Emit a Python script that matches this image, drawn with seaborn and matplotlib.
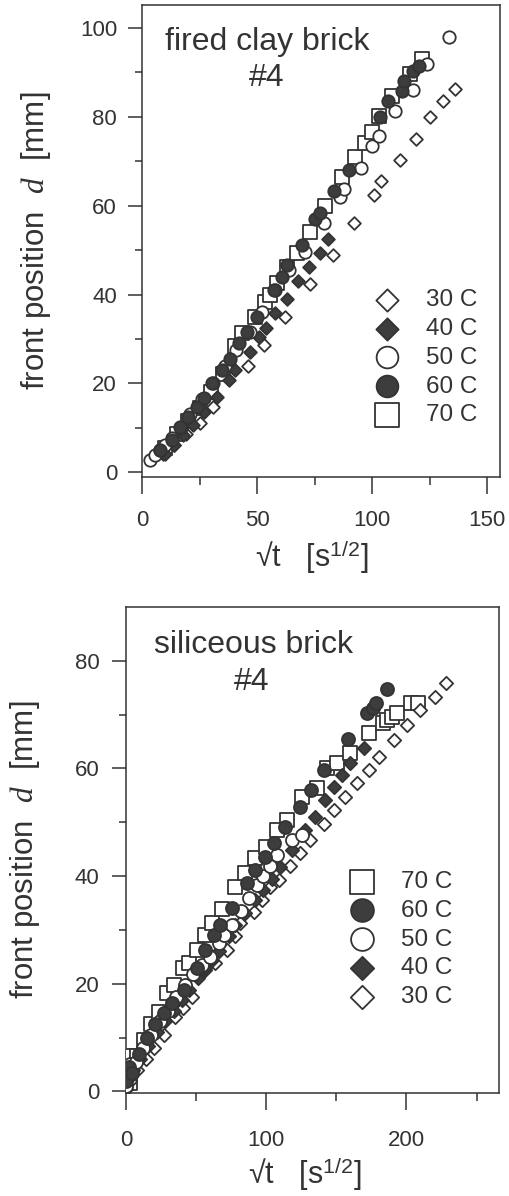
import numpy as np
import pandas as pd
import matplotlib
matplotlib.use("Agg")
import matplotlib.pyplot as plt
from matplotlib.ticker import FixedLocator
import seaborn as sns

# ---------------- data: top panel (fired clay brick #4) ----------------
T30_x = [9, 14, 19, 25, 31, 46, 53, 62, 73, 83, 92, 101, 104, 112, 119, 125, 131, 136]
T30_y = [4.0, 6.0, 8.5, 11.0, 14.7, 24.0, 28.7, 35.0, 42.4, 49.0, 56.0, 62.5, 65.5, 70.4, 75.0, 80.0, 83.5, 86.2]

T40_x = [10, 14, 18, 22, 27, 32.6, 37.7, 40.5, 47, 51, 54, 58, 63, 68, 72.5, 77.5, 81]
T40_y = [4.0, 6.0, 8.3, 10.5, 13.5, 17.0, 20.8, 23.0, 27.0, 30.5, 32.5, 35.8, 39.0, 43.0, 46.3, 49.4, 52.5]

T50_x = [3.6, 5.8, 8, 10, 13, 17, 21, 26, 31, 36, 41, 47, 52, 58, 64, 71, 79, 86, 88, 95, 100, 103, 110, 118, 124, 133.5]
T50_y = [2.7, 3.8, 5.0, 6.1, 7.7, 10.0, 13.0, 16.5, 20.0, 24.0, 27.5, 31.5, 36.0, 41.0, 45.5, 49.6, 56.0, 61.9, 63.7, 68.6, 73.4, 75.6, 81.3, 86.0, 92.0, 98.0]

T60_x = [8, 13, 16.5, 20, 24, 27, 30.4, 34.8, 38.4, 42, 45.6, 50, 57.3, 61, 63, 69.6, 75.4, 77.5, 83.4, 90, 103.6, 107, 113, 114, 118, 120.4]
T60_y = [5.0, 7.2, 10.2, 12.5, 14.7, 16.7, 20.0, 23.0, 25.5, 29.0, 31.6, 35.0, 41.0, 44.0, 46.6, 51.2, 57.0, 58.4, 63.3, 68.0, 80.0, 83.5, 85.8, 88.0, 90.3, 91.4]

T70_x = [10, 15, 20, 25, 30, 35, 40.4, 43.5, 49, 53.5, 55.7, 58.7, 63, 67.4, 73, 79.6, 87, 92.6, 97, 100, 103, 108.7, 116.5, 121.7]
T70_y = [5.5, 8.5, 11.5, 14.5, 18.0, 22.0, 28.3, 31.4, 35.0, 38.4, 40.0, 42.6, 46.3, 49.4, 54.0, 60.0, 66.4, 70.9, 74.2, 76.7, 80.2, 84.7, 89.6, 93.0]

# ---------------- data: bottom panel (siliceous brick #4) ----------------
B70_x = [0.5, 1.5, 3, 8, 13, 18, 23.6, 29, 34, 41, 45, 50.7, 56.6, 61.4, 68.6, 78, 85, 92, 99.5, 108, 115, 125.7, 136, 143.6, 150.7, 160, 173.6, 183, 186.4, 190, 193.6, 203, 208]
B70_y = [6.5, 3.0, 1.5, 6.5, 9.5, 12.5, 14.7, 18.3, 19.8, 23.0, 23.9, 26.3, 29.1, 31.3, 33.8, 38.0, 40.6, 43.4, 45.5, 48.6, 50.5, 54.7, 56.4, 60.1, 61.0, 62.9, 66.6, 68.5, 69.0, 69.6, 70.3, 72.2, 72.2]

B60_x = [0, 2, 4, 9, 15, 21, 27, 32.9, 41.4, 50.7, 56.6, 62.9, 67, 75.7, 86.4, 92, 99, 105.5, 113.6, 124, 131.6, 141, 158, 172, 176, 178, 186]
B60_y = [2.0, 4.6, 3.5, 7.0, 10.0, 12.5, 14.5, 16.5, 18.9, 23.0, 26.3, 29.1, 31.0, 34.1, 38.8, 41.2, 43.6, 46.2, 49.2, 52.9, 56.0, 59.7, 65.5, 70.3, 71.2, 72.2, 74.8]

B50_x = [0, 1, 3, 7, 12, 18, 24, 30, 36, 42, 48, 54, 60, 66, 70, 75.7, 82, 88, 93.6, 98, 103, 108, 118.6, 125.7]
B50_y = [1.0, 3.0, 5.0, 5.5, 8.0, 10.5, 13.0, 15.0, 17.5, 19.8, 21.8, 23.5, 24.9, 27.5, 29.0, 31.0, 33.5, 36.0, 38.4, 40.0, 41.8, 44.0, 46.8, 47.7]

B40_x = [0, 2, 5, 10, 16, 22, 28, 34, 40, 45, 51, 56.6, 61, 66.4, 73.6, 78, 85, 92, 98, 104, 110, 118.6, 128, 135, 142, 148.6, 154, 160, 170]
B40_y = [1.0, 2.5, 4.0, 6.0, 8.5, 11.0, 13.0, 15.0, 17.0, 18.9, 21.0, 23.0, 24.5, 26.0, 28.8, 31.0, 33.2, 35.5, 37.5, 39.5, 41.7, 44.9, 48.6, 51.0, 54.2, 56.6, 58.8, 61.0, 63.8]

B30_x = [0, 3, 8, 14, 20, 27, 35, 41, 47, 56.6, 63.6, 72, 78, 81.4, 91, 97, 103, 109, 117, 124.3, 131.4, 141.4, 148.6, 156.4, 165, 173.6, 180.7, 191.4, 200.7, 210, 220.7, 228]
B30_y = [0.5, 2.0, 4.0, 6.0, 8.0, 10.5, 13.9, 15.5, 17.6, 22.6, 23.9, 26.3, 28.8, 31.3, 33.4, 35.6, 38.0, 39.3, 41.8, 44.3, 46.8, 49.7, 52.3, 54.7, 57.3, 59.7, 62.2, 65.3, 68.1, 70.9, 73.3, 75.9]

LABELS = ["30 C", "40 C", "50 C", "60 C", "70 C"]

# ---------------- style ----------------
sns.set_theme(style="ticks")
INK = "#333333"
FILL = "#3d3d3d"
plt.rcParams["font.family"] = ["Liberation Sans", "DejaVu Sans"]
plt.rcParams["mathtext.fontset"] = "custom"
plt.rcParams["mathtext.rm"] = "Liberation Sans"
plt.rcParams["mathtext.it"] = "Liberation Serif:italic"
plt.rcParams["text.color"] = INK
plt.rcParams["axes.labelcolor"] = INK
plt.rcParams["xtick.color"] = INK
plt.rcParams["ytick.color"] = INK
plt.rcParams["axes.edgecolor"] = INK

fig = plt.figure(figsize=(5.1, 11.96), dpi=100)
W, H = 510.0, 1196.0

def axes_px(left, top, right, bottom):
    return fig.add_axes([left / W, 1 - bottom / H, (right - left) / W, (bottom - top) / H])

ax1 = axes_px(142, 5, 500, 477)
ax2 = axes_px(126, 607, 499, 1093)

# marker specs: (marker, size, open?)
SPEC = {
    "30 C": ("D", 42, True),
    "40 C": ("D", 42, False),
    "50 C": ("o", 80, True),
    "60 C": ("o", 80, False),
    "70 C": ("s", 95, True),
}

def draw(ax, lab, xs, ys, scale=1.0):
    m, s, is_open = SPEC[lab]
    df = pd.DataFrame({"x": xs, "y": ys})
    sns.scatterplot(data=df, x="x", y="y", ax=ax, marker=m, s=s * scale,
                    color=("white" if is_open else FILL),
                    edgecolor=INK, linewidth=1.3, label=lab, zorder=3)

top_series = {"30 C": (T30_x, T30_y), "40 C": (T40_x, T40_y), "50 C": (T50_x, T50_y),
              "60 C": (T60_x, T60_y), "70 C": (T70_x, T70_y)}
bot_series = {"30 C": (B30_x, B30_y), "40 C": (B40_x, B40_y), "50 C": (B50_x, B50_y),
              "60 C": (B60_x, B60_y), "70 C": (B70_x, B70_y)}

for lab in ["70 C", "30 C", "40 C", "50 C", "60 C"]:
    draw(ax1, lab, *top_series[lab])
for lab in ["70 C", "30 C", "40 C", "50 C", "60 C"]:
    draw(ax2, lab, *bot_series[lab], scale=1.1)

def style_axes(ax, xlim, ylim, xmaj, xmin, ymaj, ymin, xpad, ypad):
    ax.set_xlim(*xlim)
    ax.set_ylim(*ylim)
    ax.xaxis.set_major_locator(FixedLocator(xmaj))
    ax.xaxis.set_minor_locator(FixedLocator(xmin))
    ax.yaxis.set_major_locator(FixedLocator(ymaj))
    ax.yaxis.set_minor_locator(FixedLocator(ymin))
    for sp in ax.spines.values():
        sp.set_visible(True)
        sp.set_linewidth(1.1)
    ax.tick_params(axis="x", which="major", direction="out", length=12, width=1.1, pad=xpad, labelsize=16)
    ax.tick_params(axis="x", which="minor", direction="out", length=6, width=1.1)
    ax.tick_params(axis="y", which="major", direction="out", length=10, width=1.1, pad=ypad, labelsize=16)
    ax.tick_params(axis="y", which="minor", direction="out", length=5, width=1.1)
    ax.set_xlabel("\u221At   [s$^{\\mathrm{1/2}}$]", fontsize=22)
    ax.set_ylabel("front position  $d$  [mm]", fontsize=22.5)

style_axes(ax1, (0, 155.6), (-1.1, 105.2), [0, 50, 100, 150], [25, 75, 125],
           [0, 20, 40, 60, 80, 100], [10, 30, 50, 70, 90], 12, 8)
style_axes(ax2, (0, 266), (-0.3, 90), [0, 100, 200], [50, 150, 250],
           [0, 20, 40, 60, 80], [10, 30, 50, 70], 15, 9)

ax1.yaxis.set_label_coords(-0.25, 0.50)
ax1.xaxis.set_label_coords(0.475, -0.13)
ax2.yaxis.set_label_coords(-0.225, 0.50)
ax2.xaxis.set_label_coords(0.478, -0.128)

# legends
def make_legend(ax, order, anchor):
    handles, labels = ax.get_legend_handles_labels()
    hmap = dict(zip(labels, handles))
    ax.legend([hmap[l] for l in order], order, loc="upper left", bbox_to_anchor=anchor,
              frameon=False, fontsize=17.5, markerscale=1.75, handlelength=1.0,
              handletextpad=1.1, labelspacing=0.28, borderpad=0, borderaxespad=0)

make_legend(ax1, ["30 C", "40 C", "50 C", "60 C", "70 C"], (0.651, 0.398))
make_legend(ax2, ["70 C", "60 C", "50 C", "40 C", "30 C"], (0.60, 0.457))

# panel titles
fig.text(267 / W, 1 - 42 / H, "fired clay brick", ha="center", va="center", fontsize=23)
fig.text(267 / W, 1 - 78 / H, "#4", ha="center", va="center", fontsize=23)
fig.text(254 / W, 1 - 645 / H, "siliceous brick", ha="center", va="center", fontsize=23)
fig.text(252 / W, 1 - 682 / H, "#4", ha="center", va="center", fontsize=23)

fig.savefig("out.png", dpi=100, facecolor="white")
